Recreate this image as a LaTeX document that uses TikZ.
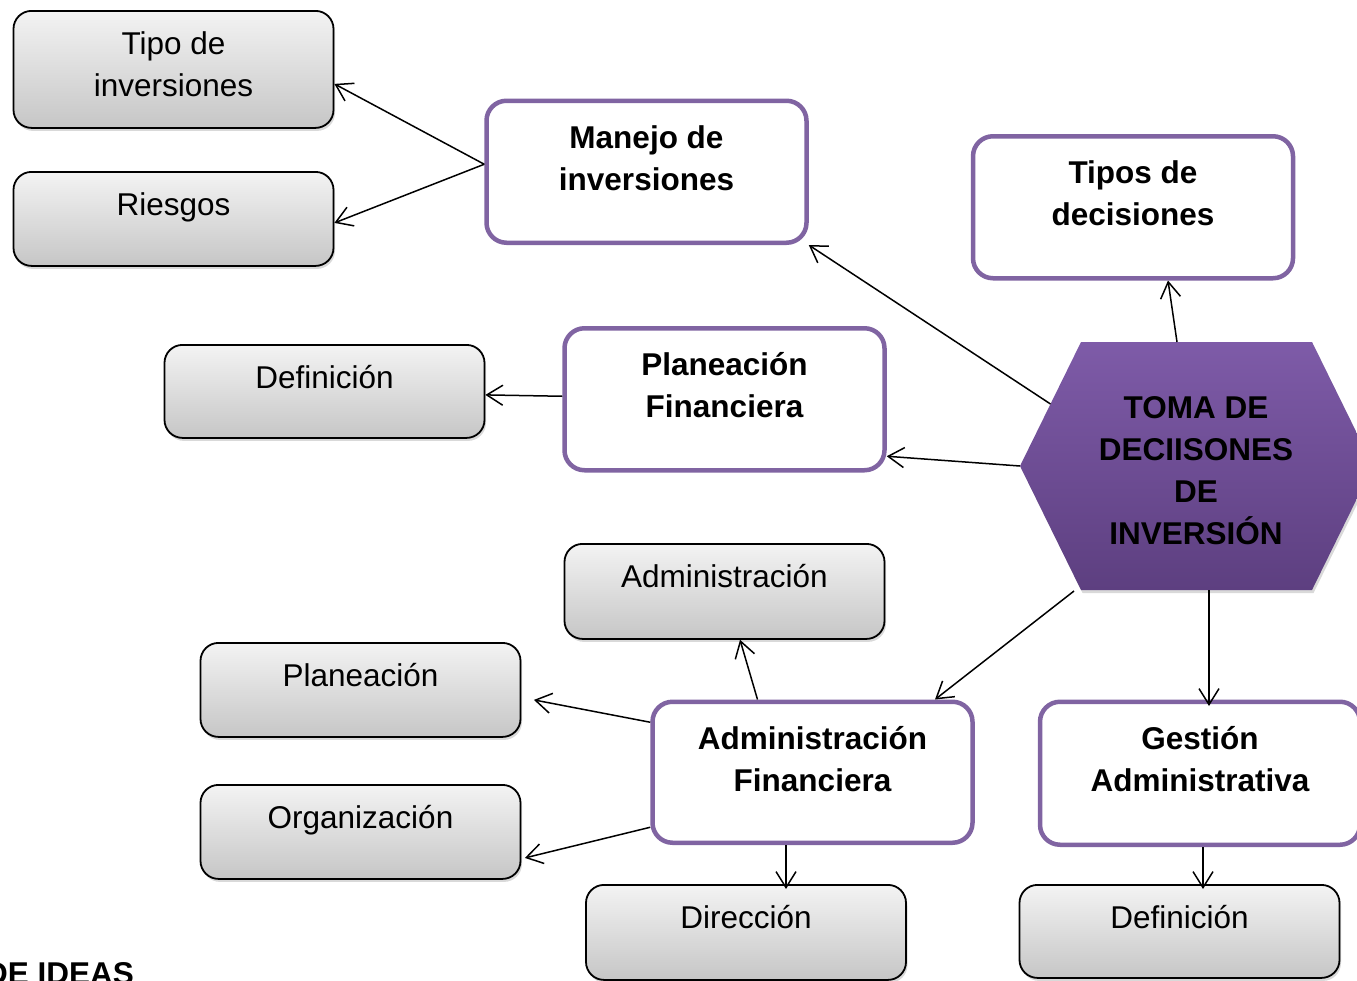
\documentclass[tikz,border=0pt]{standalone}
\usepackage{fontspec}
\setmainfont{Liberation Sans}
\usetikzlibrary{arrows.meta,shadows,calc}

\definecolor{frameviolet}{HTML}{8064A2}
\definecolor{boxtop}{HTML}{F3F3F3}
\definecolor{boxbottom}{HTML}{C6C6C6}
\definecolor{hextop}{HTML}{7E5BA8}
\definecolor{hexbottom}{HTML}{5D3F80}

\tikzset{
  txt/.style={font=\fontsize{31.5}{42}\selectfont},
  boldtxt/.style={font=\fontsize{31.5}{42}\selectfont\bfseries},
  graybox/.style={txt, draw=black, line width=1.8pt, rounded corners=18pt,
    top color=boxtop, bottom color=boxbottom, minimum width=320pt,
    inner sep=0pt, text height=44pt, anchor=north,
    drop shadow={shadow xshift=1.5pt, shadow yshift=-3pt, opacity=0.3}},
  violetbox/.style={boldtxt, draw=frameviolet, line width=4.5pt, fill=white,
    rounded corners=20pt, minimum width=320pt, inner sep=0pt,
    text height=47.5pt, text depth=94.5pt, anchor=north},
  link/.style={line width=1.5pt,
    -{Straight Barb[length=16pt,width=20pt,line width=1.5pt]}},
}

\newcommand{\twolines}[2]{\begin{tabular}[t]{@{}c@{}}#1\\#2\end{tabular}}

\begin{document}
\begin{tikzpicture}[x=1pt,y=-1pt]
  \useasboundingbox (0,0) rectangle (1357,980);
  \clip (0,0) rectangle (1357,980);

  % central hexagon
  \coordinate (hW)  at (1020,466);
  \coordinate (hNW) at (1081,342);
  \coordinate (hNE) at (1312,342);
  \coordinate (hE)  at (1373,466);
  \coordinate (hSE) at (1312,590);
  \coordinate (hSW) at (1081,590);
  \path[top color=hextop, bottom color=hexbottom,
        drop shadow={shadow xshift=1.5pt, shadow yshift=-3pt, opacity=0.3}]
    (hW) -- (hNW) -- (hNE) -- (hE) -- (hSE) -- (hSW) -- cycle;
  \node[boldtxt, anchor=base, inner sep=0pt] (hextext) at (1196,418)
    {\begin{tabular}[t]{@{}c@{}}TOMA DE\\DECIISONES\\DE\\INVERSIÓN\end{tabular}};

  \coordinate (hUp)   at ($(hW)!0.5!(hNW)$);
  \coordinate (hTop)  at (1177,342);
  \coordinate (hLow)  at (1074,591);
  \coordinate (hBot)  at (1209,590);

  % grey boxes
  \node[graybox, text depth=73pt] (tipo) at (173.5,10) {\twolines{Tipo de}{inversiones}};
  \node[graybox, text depth=50pt] (riesgos) at (173.5,171) {Riesgos};
  \node[graybox, text depth=49pt] (def1) at (324.5,344) {Definición};
  \node[graybox, text depth=51pt] (admin) at (724.5,543) {Administración};
  \node[graybox, text depth=50pt] (plan) at (360.5,642) {Planeación};
  \node[graybox, text depth=50pt] (org) at (360.5,784) {Organización};
  \node[graybox, text depth=51pt] (dir) at (746,884) {Dirección};
  \node[graybox, text depth=49pt] (def2) at (1179.5,884) {Definición};

  % violet framed boxes
  \node[violetbox] (manejo) at (646.5,98.5) {\twolines{Manejo de}{inversiones}};
  \node[violetbox] (tipos) at (1133,134) {\twolines{Tipos de}{decisiones}};
  \node[violetbox] (planfin) at (724.5,326) {\twolines{Planeación}{Financiera}};
  \node[violetbox, text depth=93.5pt] (adminfin) at (812.5,699.5) {\twolines{Administración}{Financiera}};
  \node[violetbox, text depth=95.5pt] (gestion) at (1200,699.5) {\twolines{Gestión}{Administrativa}};

  % connectors
  \draw[link] ([yshift=7.5pt]manejo.west) -- ([yshift=-14.5pt]tipo.east);
  \draw[link] ([yshift=7.5pt]manejo.west) -- ([yshift=-4pt]riesgos.east);
  \draw[link] (hUp) -- (manejo.south east);
  \draw[link] (hTop) -- ([xshift=35pt]tipos.south);
  \draw[link] (hW) -- ([yshift=-57pt]planfin.east);
  \draw[link] ([yshift=3pt]planfin.west) -- ([yshift=-3.5pt]def1.east);
  \draw[link] (hLow) -- ([xshift=122.5pt]adminfin.north);
  \draw[link] (hBot) -- ([xshift=9pt,yshift=-6.5pt]gestion.north);
  \draw[link] ([xshift=-55pt]adminfin.north) -- ([xshift=15.5pt]admin.south);
  \draw[link] ([yshift=50pt]adminfin.west) -- ([xshift=12.5pt,yshift=-10pt]plan.east);
  \draw[link] ([yshift=-55pt]adminfin.west) -- ([xshift=3.5pt,yshift=-26pt]org.east);
  \draw[link] ([xshift=-26.5pt]adminfin.south) -- ([xshift=40pt,yshift=-5pt]dir.north);
  \draw[link] ([xshift=3pt]gestion.south) -- ([xshift=23.5pt,yshift=-5pt]def2.north);

  % caption cut by the lower edge
  \node[boldtxt, anchor=base east, inner sep=0pt] (caption) at (134,984) {DE IDEAS};
\end{tikzpicture}
\end{document}
